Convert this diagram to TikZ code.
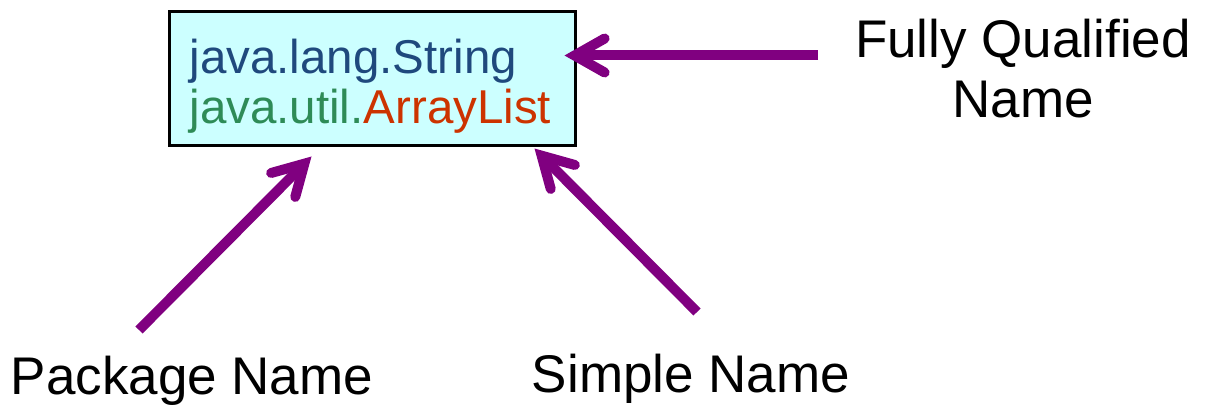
\documentclass[tikz,border=0pt]{standalone}
\usepackage{fontspec}
\setmainfont{Liberation Sans}
\usetikzlibrary{arrows.meta,calc}
\definecolor{pkgblue}{RGB}{31,73,125}
\definecolor{pkggreen}{RGB}{46,139,87}
\definecolor{simplered}{RGB}{204,51,0}
\definecolor{arrowpurple}{RGB}{128,0,128}
\definecolor{boxcyan}{RGB}{204,255,255}
\begin{document}
\begin{tikzpicture}[x=1pt,y=-1pt,
  namebox/.style={draw=black, line width=3pt, fill=boxcyan, minimum width=406pt,
    minimum height=134pt, text width=366pt, align=left, inner xsep=20pt, inner ysep=0pt,
    font=\fontsize{47.5}{50}\selectfont},
  lbl/.style={inner sep=0pt, font=\fontsize{53}{60}\selectfont},
  pointer/.style={draw=arrowpurple, line width=10pt,
    -{Straight Barb[length=30pt, width=34pt, line cap=round]}}
]
\useasboundingbox (0,0) rectangle (1205,411);
\node[namebox] (box) at (372.5,78.5)
  {\rule{0pt}{49pt}{\color{pkgblue}java.lang.String}\\{\color{pkggreen}java.util.}{\color{simplered}ArrayList}};
\node[lbl, anchor=base, align=center] (fq) at (1023,118) {Fully Qualified\\Name};
\node[lbl, anchor=base] (pkg) at (192,395) {Package Name};
\node[lbl, anchor=base] (simple) at (691,393) {Simple Name};
\coordinate (fqTail) at (818,55.5);
\coordinate (pkgTail) at (139,330);
\coordinate (simpleTail) at (697,312);
\draw[pointer] (fqTail) -- ($(box.east)+(-12.5,-23)$);
\draw[pointer] (pkgTail) -- ($(box.south west)+(143.5,9.5)$);
\draw[pointer] (simpleTail) -- ($(box.south east)+(-42.5,1.5)$);
\end{tikzpicture}
\end{document}
